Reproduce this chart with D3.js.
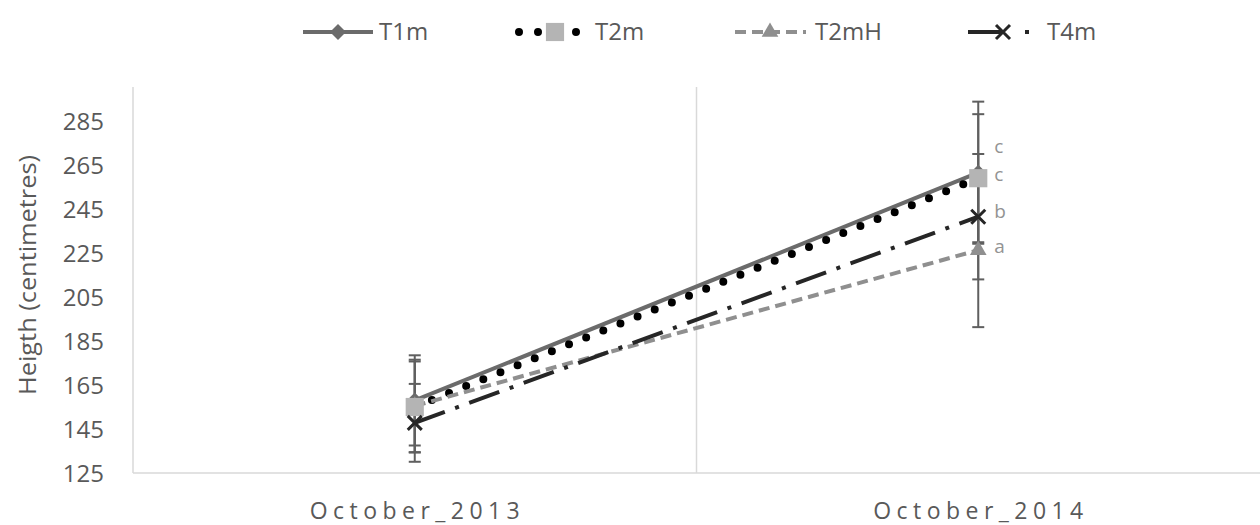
<!DOCTYPE html>
<html>
<head>
<meta charset="utf-8">
<script src="https://cdn.jsdelivr.net/npm/d3@7"></script>
<style>
  html, body { margin: 0; padding: 0; background: #fff; }
  svg { display: block; }
  text { font-family: "Open Sans", "Noto Sans", sans-serif; }
</style>
</head>
<body>
<svg id="chart" width="1260" height="525"></svg>
<script>
// ---- data ----
const categories = ["October_2013", "October_2014"];
const seriesNames = ["T1m", "T2m", "T2mH", "T4m"];
const T1m  = [158.0, 261.5];
const T2m  = [155.0, 259.0];
const T2mH = [155.5, 226.3];
const T4m  = [147.8, 241.5];
const T1mErr  = [20.5, 32.3];
const T2mErr  = [20.7, 29.1];
const T2mHErr = [21.0, 35.0];
const T4mErr  = [17.7, 28.5];
const sigLetters = ["c", "c", "a", "b"]; // at October_2014
const yTicks = [125, 145, 165, 185, 205, 225, 245, 265, 285];

const values = [T1m, T2m, T2mH, T4m];
const errors = [T1mErr, T2mErr, T2mHErr, T4mErr];

// ---- layout ----
const svg = d3.select("#chart");
const plotL = 133, plotR = 1260, plotT = 88, plotB = 473;

const x = d3.scaleBand().domain(categories).range([plotL, plotR]);
const y = d3.scaleLinear().domain([125, 300]).range([plotB, plotT]);
const cx = c => x(c) + x.bandwidth() / 2;

const textCol = "#595959";
const axisCol = "#d9d9d9";

// styles per series
const styles = [
  { color: "#6b6b6b", width: 4, dash: null, cap: "butt", marker: "diamond", mcol: "#6b6b6b" },
  { color: "#000000", width: 8, dash: "0 18.5", cap: "round", marker: "square", mcol: "#b4b4b4" },
  { color: "#8f8f8f", width: 4, dash: "11 6", cap: "butt", marker: "triangle", mcol: "#8f8f8f" },
  { color: "#262626", width: 4, dash: "32 11 4 11", cap: "butt", marker: "x", mcol: "#262626" }
];

function markerPath(type) {
  if (type === "diamond") return "M0,-8L8,0L0,8L-8,0Z";
  if (type === "square") return d3.symbol(d3.symbolSquare, 330)();
  if (type === "triangle") return d3.symbol(d3.symbolTriangle, 120)();
  if (type === "x") return "M-7,-7L7,7M-7,7L7,-7";
  return "";
}
function drawMarker(g, type, col, px, py) {
  const p = g.append("path").attr("d", markerPath(type)).attr("transform", `translate(${px},${py})`);
  if (type === "x") p.attr("fill", "none").attr("stroke", col).attr("stroke-width", 3);
  else p.attr("fill", col);
  return p;
}

// ---- axes ----
const gAxis = svg.append("g");
gAxis.append("line").attr("x1", plotL).attr("x2", plotL).attr("y1", plotT - 1).attr("y2", plotB)
  .attr("stroke", axisCol).attr("stroke-width", 1.5);
gAxis.append("line").attr("x1", plotL).attr("x2", plotR).attr("y1", plotB).attr("y2", plotB)
  .attr("stroke", axisCol).attr("stroke-width", 1.5);
// category separator
gAxis.append("line").attr("x1", x(categories[1])).attr("x2", x(categories[1]))
  .attr("y1", plotT - 1).attr("y2", plotB).attr("stroke", axisCol).attr("stroke-width", 1.5);

const yAxis = d3.axisLeft(y).tickValues(yTicks).tickSize(0).tickPadding(0);
const gy = svg.append("g").attr("transform", `translate(104,0)`).call(yAxis);
gy.select(".domain").remove();
gy.selectAll("text").attr("fill", textCol).style("font-size", "24px")
  .style("font-family", "'Open Sans', 'Noto Sans', sans-serif").attr("dy", "0.35em").attr("x", 0);

const xAxis = d3.axisBottom(x).tickSize(0).tickPadding(0);
const gx = svg.append("g").attr("transform", `translate(0,519)`).call(xAxis);
gx.select(".domain").remove();
gx.selectAll("text").attr("fill", textCol).style("font-size", "23px")
  .style("font-family", "'Open Sans', 'Noto Sans', sans-serif")
  .attr("dy", 0).attr("y", 0)
  .attr("textLength", 210).attr("lengthAdjust", "spacing");

// y title
svg.append("text")
  .attr("transform", "translate(36,275) rotate(-90)")
  .attr("text-anchor", "middle").attr("fill", textCol).style("font-size", "23px")
  .attr("textLength", 240).attr("lengthAdjust", "spacingAndGlyphs")
  .text("Heigth (centimetres)");

// ---- error bars ----
const gErr = svg.append("g");
values.forEach((vals, si) => {
  vals.forEach((v, ci) => {
    const px = cx(categories[ci]);
    const e = errors[si][ci];
    const yt = y(v + e), yb = y(v - e);
    gErr.append("line").attr("x1", px).attr("x2", px).attr("y1", yt).attr("y2", yb)
      .attr("stroke", "#5f5f5f").attr("stroke-width", 2);
    [yt, yb].forEach(yy => gErr.append("line").attr("x1", px - 6).attr("x2", px + 6)
      .attr("y1", yy).attr("y2", yy).attr("stroke", "#5f5f5f").attr("stroke-width", 2));
  });
});

// ---- lines ----
const line = d3.line().x((d, i) => cx(categories[i])).y(d => y(d));
const gLines = svg.append("g");
values.forEach((vals, si) => {
  const s = styles[si];
  gLines.append("path").datum(vals).attr("d", line)
    .attr("fill", "none").attr("stroke", s.color).attr("stroke-width", s.width)
    .attr("stroke-dasharray", s.dash).attr("stroke-linecap", s.cap);
});

// ---- markers ----
const gMarks = svg.append("g");
[0, 2, 1, 3].forEach(si => {
  const s = styles[si];
  values[si].forEach((v, ci) => drawMarker(gMarks, s.marker, s.mcol, cx(categories[ci]), y(v)));
});

// ---- significance letters ----
const letterDy = [-26, -4, -4, -5];
values.forEach((vals, si) => {
  svg.append("text").attr("x", cx(categories[1]) + 16).attr("y", y(vals[1]) + letterDy[si])
    .attr("dy", "0.35em").attr("fill", "#939393").style("font-size", "19px")
    .text(sigLetters[si]);
});

// ---- legend ----
const legY = 32;
const legX = [303, 519, 735, 968];
const legLen = [70, 63, 71, 70];
const legDash = [null, "0 19", "11 6", "36 21 4 40"];
const legMarkX = [35, 36, 35, 35];
const legTextX = [379, 595, 815, 1047];
const gLeg = svg.append("g");
seriesNames.forEach((name, si) => {
  const s = styles[si];
  gLeg.append("line").attr("x1", legX[si]).attr("x2", legX[si] + legLen[si])
    .attr("y1", legY).attr("y2", legY)
    .attr("stroke", s.color).attr("stroke-width", s.width)
    .attr("stroke-dasharray", legDash[si]).attr("stroke-linecap", s.cap);
  drawMarker(gLeg, s.marker, s.mcol, legX[si] + legMarkX[si], legY);
  gLeg.append("text").attr("x", legTextX[si]).attr("y", legY).attr("dy", "0.35em")
    .attr("fill", textCol).style("font-size", "24px").text(name);
});
</script>
</body>
</html>
